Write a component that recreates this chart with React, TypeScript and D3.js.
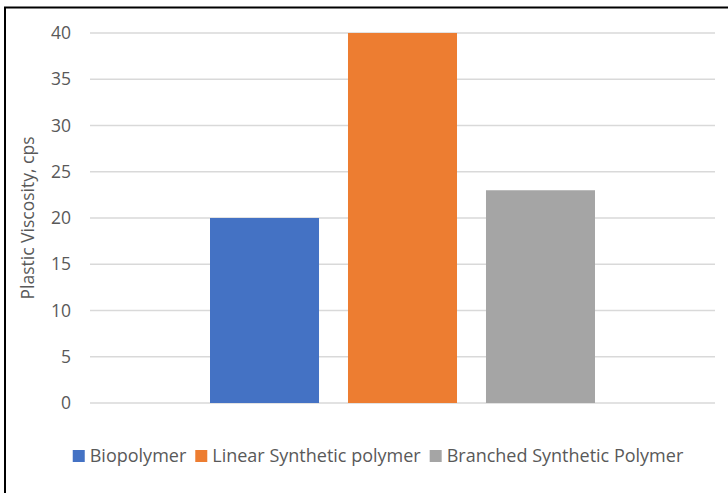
import React, { useEffect, useRef } from "react";
import * as d3 from "d3";

const seriesNames = ["Biopolymer", "Linear Synthetic polymer", "Branched Synthetic Polymer"];
const seriesValues = [20, 40, 23];
const seriesColors = ["#4472C4", "#ED7D31", "#A5A5A5"];
const yTicks = [0, 5, 10, 15, 20, 25, 30, 35, 40];
const yTitle = "Plastic Viscosity, cps";

const W = 728, H = 493;
const FONT = "'Open Sans', 'Liberation Sans', sans-serif";

export default function App() {
  const ref = useRef<SVGSVGElement>(null);
  useEffect(() => {
    const svg = d3.select(ref.current);
    svg.selectAll("*").remove();
    svg.append("rect").attr("x", 0).attr("y", 0).attr("width", W).attr("height", H).attr("fill", "#fff");
    svg.append("rect").attr("x", 5).attr("y", 7.5).attr("width", W + 20).attr("height", H + 20)
      .attr("fill", "none").attr("stroke", "#000").attr("stroke-width", 2);

    const x0 = 90, x1 = 715;
    const y = d3.scaleLinear().domain([0, 40]).range([403, 33]);
    const inner = d3.scaleBand().domain(seriesNames).range([x0 + 120, x1 - 120]).paddingInner(0.21).paddingOuter(0);

    const g = svg.append("g");
    yTicks.forEach(t => {
      g.append("line").attr("x1", x0).attr("x2", x1)
        .attr("y1", y(t)).attr("y2", y(t)).attr("stroke", "#d9d9d9").attr("stroke-width", 1.5);
      g.append("text").attr("x", 71).attr("y", y(t)).attr("dy", "0.35em")
        .attr("text-anchor", "end").attr("font-family", FONT).attr("font-size", 17.5)
        .attr("fill", "#595959").text(String(t));
    });

    seriesNames.forEach((s, i) => {
      g.append("rect").attr("x", inner(s)!).attr("width", inner.bandwidth())
        .attr("y", y(seriesValues[i])).attr("height", y(0) - y(seriesValues[i]))
        .attr("fill", seriesColors[i]);
    });

    g.append("text").attr("transform", `translate(34,218) rotate(-90)`)
      .attr("text-anchor", "middle").attr("font-family", FONT).attr("font-size", 17.5)
      .attr("fill", "#595959").text(yTitle);

    // legend
    const lg = svg.append("g");
    const texts = seriesNames.map(s => lg.append("text").attr("font-family", FONT).attr("font-size", 18)
      .attr("fill", "#595959").attr("y", 456).attr("dy", "0.35em").text(s));
    const sq = 12, gapSqText = 5, gapItem = 9;
    const widths = texts.map(t => (t.node() as SVGTextElement).getComputedTextLength());
    const total = widths.reduce((a, w) => a + sq + gapSqText + w, 0) + gapItem * (widths.length - 1);
    let cx = 378 - total / 2;
    texts.forEach((t, i) => {
      lg.append("rect").attr("x", cx).attr("y", 456 - sq / 2).attr("width", sq).attr("height", sq).attr("fill", seriesColors[i]);
      t.attr("x", cx + sq + gapSqText);
      cx += sq + gapSqText + widths[i] + gapItem;
    });
  }, []);
  return <svg ref={ref} width={W} height={H} style={{ display: "block", position: "absolute", left: 0, top: 0 }} />;
}
